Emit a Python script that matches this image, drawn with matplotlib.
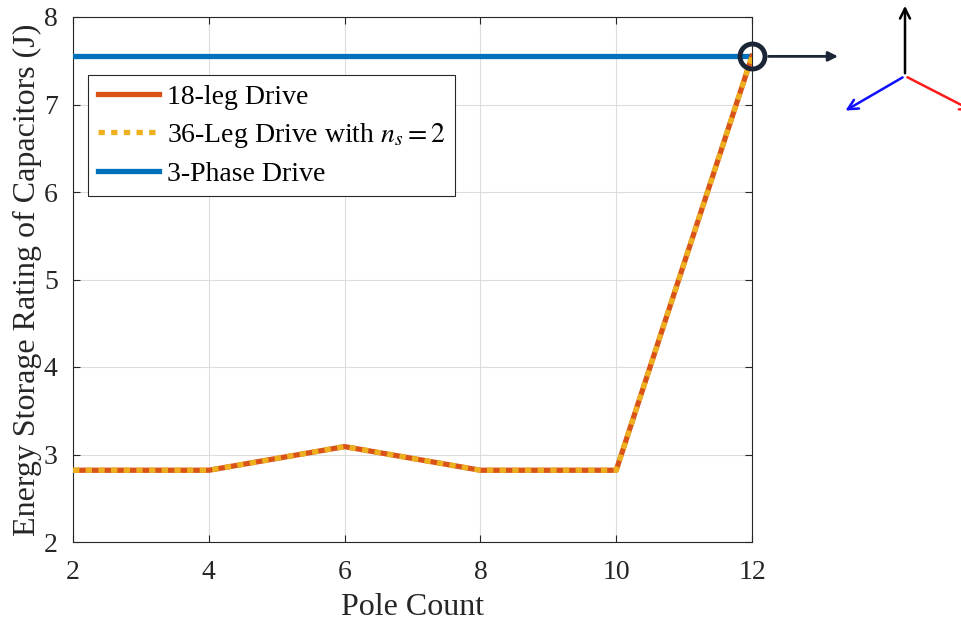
import numpy as np
import matplotlib.pyplot as plt

# data
pole_count = [2, 4, 6, 8, 10, 12]
leg18 = [2.82, 2.82, 3.09, 2.82, 2.82, 7.55]
leg36 = [2.82, 2.82, 3.09, 2.82, 2.82, 7.55]
three_phase = [7.55, 7.55, 7.55, 7.55, 7.55, 7.55]

plt.rcParams['font.family'] = ['Liberation Serif', 'DejaVu Serif']
plt.rcParams['mathtext.fontset'] = 'stix'

fig = plt.figure(figsize=(9.62, 6.25), dpi=100)
ax = fig.add_axes([0.0759, 0.1328, 0.7058, 0.84])

ax.plot(pole_count, three_phase, color='#0072bd', lw=3.8, label='3-Phase Drive', zorder=3)
ax.plot(pole_count, leg18, color='#d95319', lw=3.8, label='18-leg Drive', zorder=4)
ax.plot(pole_count, leg36, color='#edb120', lw=3.8, ls=(0, (1.2, 1.2)),
        label='36-Leg Drive with $n_s = 2$', zorder=5)

ax.set_xlim(2, 12)
ax.set_ylim(2, 8)
ax.set_xticks(np.arange(2, 13, 2))
ax.set_yticks(np.arange(2, 9, 1))
ax.grid(True, color='#dcdcdc', lw=0.8)
ax.tick_params(direction='in', top=True, right=True, labelsize=20, colors='#262626',
               length=5)
ax.tick_params(axis='x', pad=13)
ax.tick_params(axis='y', pad=11)
for s in ax.spines.values():
    s.set_color('#262626')
    s.set_linewidth(0.8)

ax.set_xlabel('Pole Count', fontsize=23, color='#262626', labelpad=6)
ax.set_ylabel('Energy Storage Rating of Capacitors (J)', fontsize=23, color='#262626', labelpad=1)

h, l = ax.get_legend_handles_labels()
order = [1, 2, 0]
leg = ax.legend([h[i] for i in order], [l[i] for i in order], loc='upper left',
                bbox_to_anchor=(0.022, 0.89), fontsize=20, fancybox=False,
                edgecolor='#262626', framealpha=1, handlelength=2.2,
                borderpad=0.35, labelspacing=0.4, handletextpad=0.3, borderaxespad=0)
leg.get_frame().set_linewidth(0.8)

# highlight marker and arrow to the axis icon
ax.plot(12, 7.55, 'o', ms=18, mfc='none', mec='#1c2535', mew=3.5, clip_on=False, zorder=6)
ax.annotate('', xy=(838 / 962, 7.55), xycoords=('figure fraction', 'data'),
            xytext=(12, 7.55), textcoords='data',
            arrowprops=dict(arrowstyle='-|>', color='#1c2535', lw=2,
                            shrinkA=12, shrinkB=0, mutation_scale=14))

# three-phase axis icon
cx, cy = 905 / 962, 1 - 76 / 625
for ex, ey, c in [(905, 3, 'black'), (843, 112, '#1010ff'), (975, 112, '#ff1a1a')]:
    fig.add_artist(plt.matplotlib.patches.FancyArrowPatch(
        (cx, cy), (ex / 962, 1 - ey / 625), transform=fig.transFigure,
        arrowstyle='->', color=c, lw=1.8, mutation_scale=18))

fig.savefig('out.png', dpi=100)
